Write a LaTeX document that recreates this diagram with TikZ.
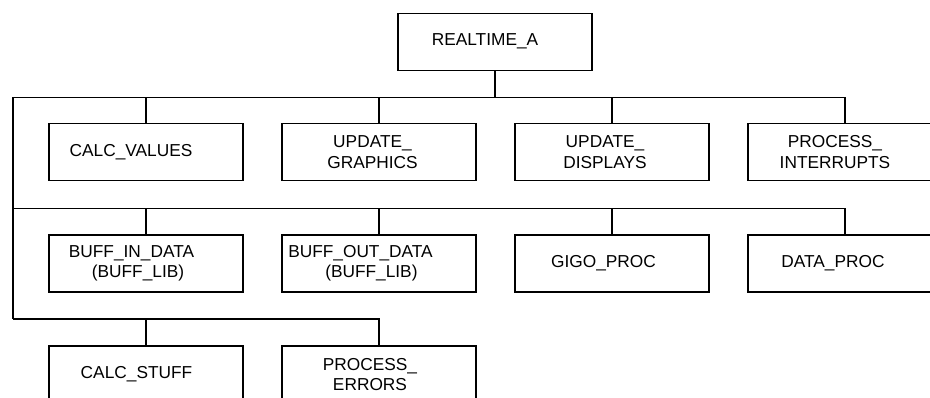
\documentclass[tikz,border=0pt]{standalone}
\usepackage{fontspec}
\setmainfont{Liberation Sans}
\begin{document}
\begin{tikzpicture}[x=1pt, y=-1pt,
  font=\fontsize{17.3}{20.6}\selectfont,
  box/.style={draw, line width=1.3pt, minimum width=194pt, minimum height=57pt, inner sep=0pt},
  wire/.style={line width=1.3pt}]
\useasboundingbox (0,0) rectangle (930,398);
\clip (0,0) rectangle (930,398);

% root
\node[box, label={[xshift=-10pt]center:REALTIME\_A}] (root) at (495,41.7) {};

% first level
\node[box, label={[xshift=-15pt]center:CALC\_VALUES}] (p1) at (146,152.3) {};
\node[box, label={[xshift=-6.5pt, align=center]center:UPDATE\_\\GRAPHICS}] (p2) at (379,152.3) {};
\node[box, label={[xshift=-7pt, align=center]center:UPDATE\_\\DISPLAYS}] (p3) at (612,152.3) {};
\node[box, label={[xshift=-10pt, align=center]center:PROCESS\_\\INTERRUPTS}] (p4) at (845,152.3) {};

% second level
\node[box, label={[xshift=-14.5pt, align=left]center:BUFF\_IN\_DATA\\\hspace*{23pt}(BUFF\_LIB)}] (d1) at (146,263.4) {};
\node[box, label={[xshift=-18.5pt, align=left]center:BUFF\_OUT\_DATA\\\hspace*{37pt}(BUFF\_LIB)}] (d2) at (379,263.4) {};
\node[box, label={[xshift=-8.5pt]center:GIGO\_PROC}] (d3) at (612,263.4) {};
\node[box, label={[xshift=-12pt]center:DATA\_PROC}] (d4) at (845,263.4) {};

% third level
\node[box, label={[xshift=-9.5pt]center:CALC\_STUFF}] (s1) at (146,374.5) {};
\node[box, label={[xshift=-9pt, align=center]center:PROCESS\_\\ERRORS}] (s2) at (379,374.5) {};

% bus lines
\coordinate (bus1) at (13,97.5);
\coordinate (bus2) at (13,208.7);
\coordinate (bus3) at (13,319);

\draw[wire] (root.south) -- (root.south |- bus1);
\draw[wire] (bus1) -- (bus3);

\draw[wire] (bus1) -| (p4.north);
\foreach \n in {p1,p2,p3} \draw[wire] (\n.north) -- (\n.north |- bus1);

\draw[wire] (bus2) -| (d4.north);
\foreach \n in {d1,d2,d3} \draw[wire] (\n.north) -- (\n.north |- bus2);

\draw[wire] (bus3) -| (s2.north);
\draw[wire] (s1.north) -- (s1.north |- bus3);
\end{tikzpicture}
\end{document}
